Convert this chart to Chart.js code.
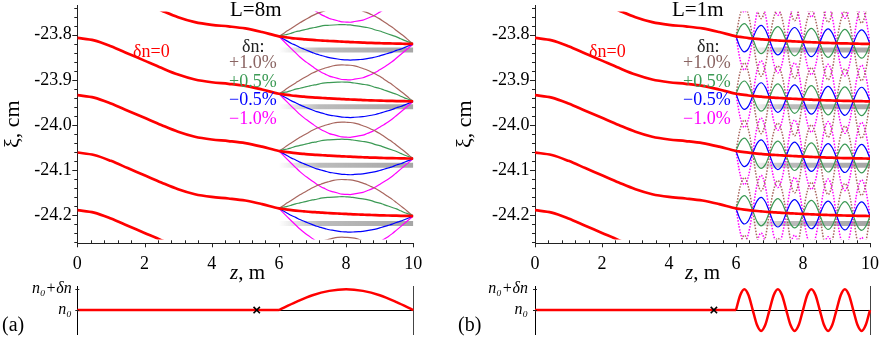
<!DOCTYPE html>
<html>
<head>
<meta charset="utf-8">
<script src="https://cdn.jsdelivr.net/npm/chart.js@4.4.0/dist/chart.umd.min.js"></script>
<style>
  body { margin: 0; background: #fff; }
  #wrap { position: relative; width: 880px; height: 342px; overflow: hidden;
          font-family: "Liberation Serif", "DejaVu Serif", serif; color: #000; }
  canvas { position: absolute; }
  .t { position: absolute; white-space: nowrap; line-height: 1; font-size: 18px; }
  .big { font-size: 21px; }
</style>
</head>
<body>
<div id="wrap">
  <canvas id="topA" width="440" height="275" style="left:0;top:0"></canvas>
  <canvas id="topB" width="440" height="275" style="left:440px;top:0"></canvas>
  <canvas id="botA" width="440" height="62" style="left:0;top:280px"></canvas>
  <canvas id="botB" width="440" height="62" style="left:440px;top:280px"></canvas>

  <div class="t big" style="left:230px;top:-1px">L=8m</div>
  <div class="t" style="left:133px;top:42px;color:#ff0000">δn=0</div>
  <div class="t" style="left:242px;top:37px;color:#222">δn:</div>
  <div class="t" style="left:229px;top:53px;color:#8a6462">+1.0%</div>
  <div class="t" style="left:229px;top:71.5px;color:#3c9a55">+0.5%</div>
  <div class="t" style="left:229px;top:90px;color:#0000ff">−0.5%</div>
  <div class="t" style="left:229px;top:108.5px;color:#ff00ff">−1.0%</div>
  <div class="t big" style="left:230px;top:262px"><i>z</i>, m</div>
  <div class="t" style="left:2px;top:314px;font-size:20px">(a)</div>

  <div class="t big" style="left:672px;top:-1px">L=1m</div>
  <div class="t" style="left:589px;top:42px;color:#ff0000">δn=0</div>
  <div class="t" style="left:697px;top:37px;color:#222">δn:</div>
  <div class="t" style="left:683px;top:53px;color:#8a6462">+1.0%</div>
  <div class="t" style="left:683px;top:71.5px;color:#3c9a55">+0.5%</div>
  <div class="t" style="left:683px;top:90px;color:#0000ff">−0.5%</div>
  <div class="t" style="left:683px;top:108.5px;color:#ff00ff">−1.0%</div>
  <div class="t big" style="left:685px;top:262px"><i>z</i>, m</div>
  <div class="t" style="left:458px;top:314px;font-size:20px">(b)</div>
</div>
<script>
// z grid of the trajectories (m)
const zHead = [0, 0.5, 1, 1.5, 2, 2.5, 3, 3.5, 4, 4.5, 5, 5.5];
const zTail = [6, 6.125, 6.25, 6.375, 6.5, 6.625, 6.75, 6.875,
               7, 7.125, 7.25, 7.375, 7.5, 7.625, 7.75, 7.875,
               8, 8.125, 8.25, 8.375, 8.5, 8.625, 8.75, 8.875,
               9, 9.125, 9.25, 9.375, 9.5, 9.625, 9.75, 9.875, 10];

// reference trajectory, delta n = 0 (cm)
const xiHead = [-23.807, -23.8125, -23.8255, -23.8415, -23.8575, -23.8735,
                -23.8885, -23.8995, -23.9055, -23.909, -23.9135, -23.9215];
const xiTail = [-23.9310, -23.9324, -23.9337, -23.9349, -23.9359, -23.9368, -23.9376, -23.9384,
                -23.9391, -23.9397, -23.9403, -23.9409, -23.9414, -23.9419, -23.9424, -23.9429,
                -23.9433, -23.9438, -23.9442, -23.9446, -23.9450, -23.9454, -23.9457, -23.9460,
                -23.9463, -23.9466, -23.9468, -23.9470, -23.9472, -23.9474, -23.9476, -23.9478, -23.9480];
// shift of each of the stacked trajectories
const curveShift = [0.2555, 0.1275, 0, -0.127, -0.2545, -0.3825];

// deviation from the delta n = 0 trajectory, L = 8 m
const dev8Plus10 = [0, .007, .015, .022, .029, .036, .042, .048, .054, .059, .063, .067, .070, .073, .075, .076,
                    .076, .076, .075, .073, .070, .067, .063, .059, .054, .048, .042, .036, .029, .022, .015, .007, 0];
const dev8Plus05 = [0, .004, .007, .011, .015, .018, .021, .024, .027, .029, .032, .034, .035, .036, .037, .038,
                    .038, .038, .037, .036, .035, .034, .032, .029, .027, .024, .021, .018, .015, .011, .007, .004, 0];
const dev8Minus05 = [0, -.004, -.008, -.012, -.015, -.019, -.022, -.025, -.028, -.031, -.033, -.035, -.037, -.038, -.039, -.040,
                     -.040, -.040, -.039, -.038, -.037, -.035, -.033, -.031, -.028, -.025, -.022, -.019, -.015, -.012, -.008, -.004, 0];
const dev8Minus10 = [0, -.008, -.016, -.024, -.032, -.040, -.047, -.053, -.059, -.065, -.070, -.074, -.078, -.080, -.082, -.084,
                     -.084, -.084, -.082, -.080, -.078, -.074, -.070, -.065, -.059, -.053, -.047, -.040, -.032, -.024, -.016, -.008, 0];

// deviation from the delta n = 0 trajectory, L = 1 m
const dev1Plus10 = [0, .050, .071, .050, 0, -.058, -.082, -.058, 0, .050, .071, .050, 0, -.058, -.082, -.058,
                    0, .050, .071, .050, 0, -.058, -.082, -.058, 0, .050, .071, .050, 0, -.058, -.082, -.058, 0];
const dev1Plus05 = [0, .022, .031, .022, 0, -.023, -.032, -.023, 0, .022, .031, .022, 0, -.023, -.032, -.023,
                    0, .022, .031, .022, 0, -.023, -.032, -.023, 0, .022, .031, .022, 0, -.023, -.032, -.023, 0];
const dev1Minus05 = [0, -.023, -.032, -.023, 0, .022, .031, .022, 0, -.023, -.032, -.023, 0, .022, .031, .022,
                     0, -.023, -.032, -.023, 0, .022, .031, .022, 0, -.023, -.032, -.023, 0, .022, .031, .022, 0];
const dev1Minus10 = [0, -.051, -.072, -.051, 0, .057, .080, .057, 0, -.051, -.072, -.051, 0, .057, .080, .057,
                     0, -.051, -.072, -.051, 0, .057, .080, .057, 0, -.051, -.072, -.051, 0, .057, .080, .057, 0];

// grey bands
const barXi = [-23.834, -23.960, -24.090, -24.219];

// ticks
const zTicks = [0, 2, 4, 6, 8, 10];
const zMinorTicks = [0.4, 0.8, 1.2, 1.6, 2.4, 2.8, 3.2, 3.6, 4.4, 4.8, 5.2, 5.6,
                     6.4, 6.8, 7.2, 7.6, 8.4, 8.8, 9.2, 9.6];
const xiTicks = [-23.8, -23.9, -24.0, -24.1, -24.2];
const xiMinorTicks = [-23.74, -23.76, -23.78, -23.82, -23.84, -23.86, -23.88, -23.92, -23.94, -23.96, -23.98,
                      -24.02, -24.04, -24.06, -24.08, -24.12, -24.14, -24.16, -24.18, -24.22, -24.24, -24.26];

// index profile n(z): 0 = n0, 1 = n0 + dn
const nFlatZ = [0, 6];
const nFlat = [0, 0];
const nArcZ8 = [6, 6.5, 7, 7.5, 8, 8.5, 9, 9.5, 10];
const nArc8 = [0, .38, .71, .92, 1, .92, .71, .38, 0];
const nArc1 = [0, .71, 1, .71, 0, -.71, -1, -.71, 0, .71, 1, .71, 0, -.71, -1, -.71,
               0, .71, 1, .71, 0, -.71, -1, -.71, 0, .71, 1, .71, 0, -.71, -1, -.71, 0];
const crossZ = [5.34];

const SERIF = "'Liberation Serif', 'DejaVu Serif', serif";
const RED = '#ff0000';
const COLS = ['#a8665e', '#3c9a55', '#0000ff', '#ff00ff'];
const CLIP = {left: 0, right: 0, top: -6.5, bottom: -3.8};
const NOCLIP = {left: 4, right: 4, top: 4, bottom: 4};

const tickMarks = {
  id: 'tickMarks',
  afterDraw(chart, args, o) {
    const {ctx, chartArea: a} = chart;
    const x = chart.scales.x, y = chart.scales.y;
    ctx.save();
    ctx.strokeStyle = '#222';
    ctx.lineWidth = 1;
    ctx.beginPath();
    (o.x || []).forEach(([vals, up, down]) => vals.forEach(v => {
      const px = Math.round(x.getPixelForValue(v)) + 0.5;
      ctx.moveTo(px, a.bottom - up); ctx.lineTo(px, a.bottom + down);
    }));
    (o.y || []).forEach(([vals, out, inn]) => vals.forEach(v => {
      const py = Math.round(y.getPixelForValue(v)) + 0.5;
      ctx.moveTo(a.left - out, py); ctx.lineTo(a.left + inn, py);
    }));
    ctx.stroke();
    ctx.restore();
  }
};

function curve(pts, color, width, dash, clip) {
  return {data: pts, borderColor: color, borderWidth: width, borderDash: dash || [],
          pointRadius: 0, fill: false, cubicInterpolationMode: 'monotone', clip: clip || CLIP};
}

function barColor(start) {
  return (c) => {
    const ch = c.chart;
    if (!ch.chartArea) return '#aaa';
    const x0 = ch.scales.x.getPixelForValue(start), x1 = ch.scales.x.getPixelForValue(10);
    const g = ch.ctx.createLinearGradient(x0, 0, x1, 0);
    g.addColorStop(0, 'rgba(160,160,160,0)');
    g.addColorStop(0.3, 'rgba(160,160,160,0.7)');
    g.addColorStop(1, 'rgba(150,150,150,0.85)');
    return g;
  };
}

function buildTop(id, devs, dotted, barStart, leftW, rightPad, titlePad) {
  const zAll = zHead.concat(zTail), xiAll = xiHead.concat(xiTail);
  const sets = [];
  curveShift.forEach(s => sets.push(curve(zAll.map((z, i) => ({x: z, y: xiAll[i] + s})), RED, 2.7)));
  [1, 2, 0, 3].forEach(c => {
    const dot = dotted && (c === 0 || c === 3);
    curveShift.forEach(s => sets.push(curve(
      zTail.map((z, i) => ({x: z, y: xiTail[i] + s + devs[c][i]})),
      COLS[c], dot ? 1.5 : 1.2, dot ? [1.5, 1.5] : null)));
  });
  barXi.forEach(b => sets.push({data: [{x: barStart, y: b}, {x: 10, y: b}],
    borderColor: barColor(barStart), borderWidth: 5, pointRadius: 0, clip: CLIP}));

  new Chart(document.getElementById(id), {
    type: 'line',
    data: {datasets: sets},
    plugins: [tickMarks],
    options: {
      responsive: false, animation: false, events: [],
      elements: {line: {capBezierPoints: false}},
      layout: {padding: {top: 5, right: rightPad, left: 0, bottom: 0}},
      plugins: {
        legend: {display: false}, tooltip: {enabled: false},
        tickMarks: {x: [[zTicks, 0, 4], [zMinorTicks, 3, 0]], y: [[xiTicks, 5, 0], [xiMinorTicks, 3, 0]]}
      },
      scales: {
        x: {
          type: 'linear', min: 0, max: 10,
          grid: {display: false, drawTicks: false},
          border: {display: true, color: '#222', width: 1},
          afterBuildTicks: s => { s.ticks = zTicks.map(v => ({value: v})); },
          afterFit: s => { s.height = 31.7; s.paddingLeft = 0; s.paddingRight = 0; },
          ticks: {padding: 10, color: '#000', maxRotation: 0, autoSkip: false,
                  font: {family: SERIF, size: 18}, callback: v => String(v)}
        },
        y: {
          type: 'linear', min: -24.263, max: -23.734,
          grid: {display: false, drawTicks: false},
          border: {display: true, color: '#222', width: 1},
          afterBuildTicks: s => { s.ticks = xiTicks.map(v => ({value: v})); },
          afterFit: s => { s.width = leftW; s.paddingTop = 0; s.paddingBottom = 0; },
          ticks: {padding: 5.5, color: '#000', font: {family: SERIF, size: 18}, callback: v => v.toFixed(1)},
          title: {display: true, text: 'ξ, cm', color: '#000', font: {family: SERIF, size: 22},
                  padding: {top: titlePad, bottom: 0}}
        }
      }
    }
  });
}

function buildBottom(id, arcZ, arcN, leftW, rightW, labelPad) {
  new Chart(document.getElementById(id), {
    type: 'line',
    data: {datasets: [
      {data: crossZ.map(z => ({x: z, y: 0})), showLine: false, pointStyle: 'crossRot',
       pointRadius: 4.5, pointBorderWidth: 1.6, pointBorderColor: '#000', borderColor: '#000', clip: NOCLIP},
      curve(nFlatZ.map((z, i) => ({x: z, y: nFlat[i]})), RED, 2.5, null, NOCLIP),
      curve(arcZ.map((z, i) => ({x: z, y: arcN[i]})), RED, 2.5, null, NOCLIP)
    ]},
    plugins: [tickMarks],
    options: {
      responsive: false, animation: false, events: [],
      elements: {line: {capBezierPoints: false}},
      layout: {padding: {top: 6, bottom: 8, left: 0, right: 0}},
      plugins: {legend: {display: false}, tooltip: {enabled: false},
                tickMarks: {y: [[[0, 1], 2, 2]]}},
      scales: {
        x: {type: 'linear', min: 0, max: 10, display: false},
        y: {
          min: -1.15, max: 1.15,
          grid: {display: true, drawTicks: false,
                 color: c => (c.tick && c.tick.value === 0) ? '#000' : 'rgba(0,0,0,0)'},
          border: {display: true, color: '#000', width: 1},
          afterBuildTicks: s => { s.ticks = [{value: 0}, {value: 1}]; },
          afterFit: s => { s.width = leftW; s.paddingTop = 0; s.paddingBottom = 0; },
          ticks: {padding: labelPad, color: '#000', font: {family: SERIF, size: 16, style: 'italic'},
                  callback: v => v === 0 ? 'n₀' : 'n₀+δn'}
        },
        y2: {
          position: 'right', min: -1.15, max: 1.15,
          grid: {display: false, drawTicks: false},
          border: {display: true, color: '#444', width: 1},
          ticks: {display: false},
          afterFit: s => { s.width = rightW; s.paddingTop = 0; s.paddingBottom = 0; }
        }
      }
    }
  });
}

buildTop('topA', [dev8Plus10, dev8Plus05, dev8Minus05, dev8Minus10], false, 6.0, 77.3, 26.7, 0);
buildTop('topB', [dev1Plus10, dev1Plus05, dev1Minus05, dev1Minus10], true, 6.4, 95, 10, 12.3);
buildBottom('botA', nArcZ8, nArc8, 77.3, 26.7, 5.5);
buildBottom('botB', zTail, nArc1, 95, 10, 7);
</script>
</body>
</html>
